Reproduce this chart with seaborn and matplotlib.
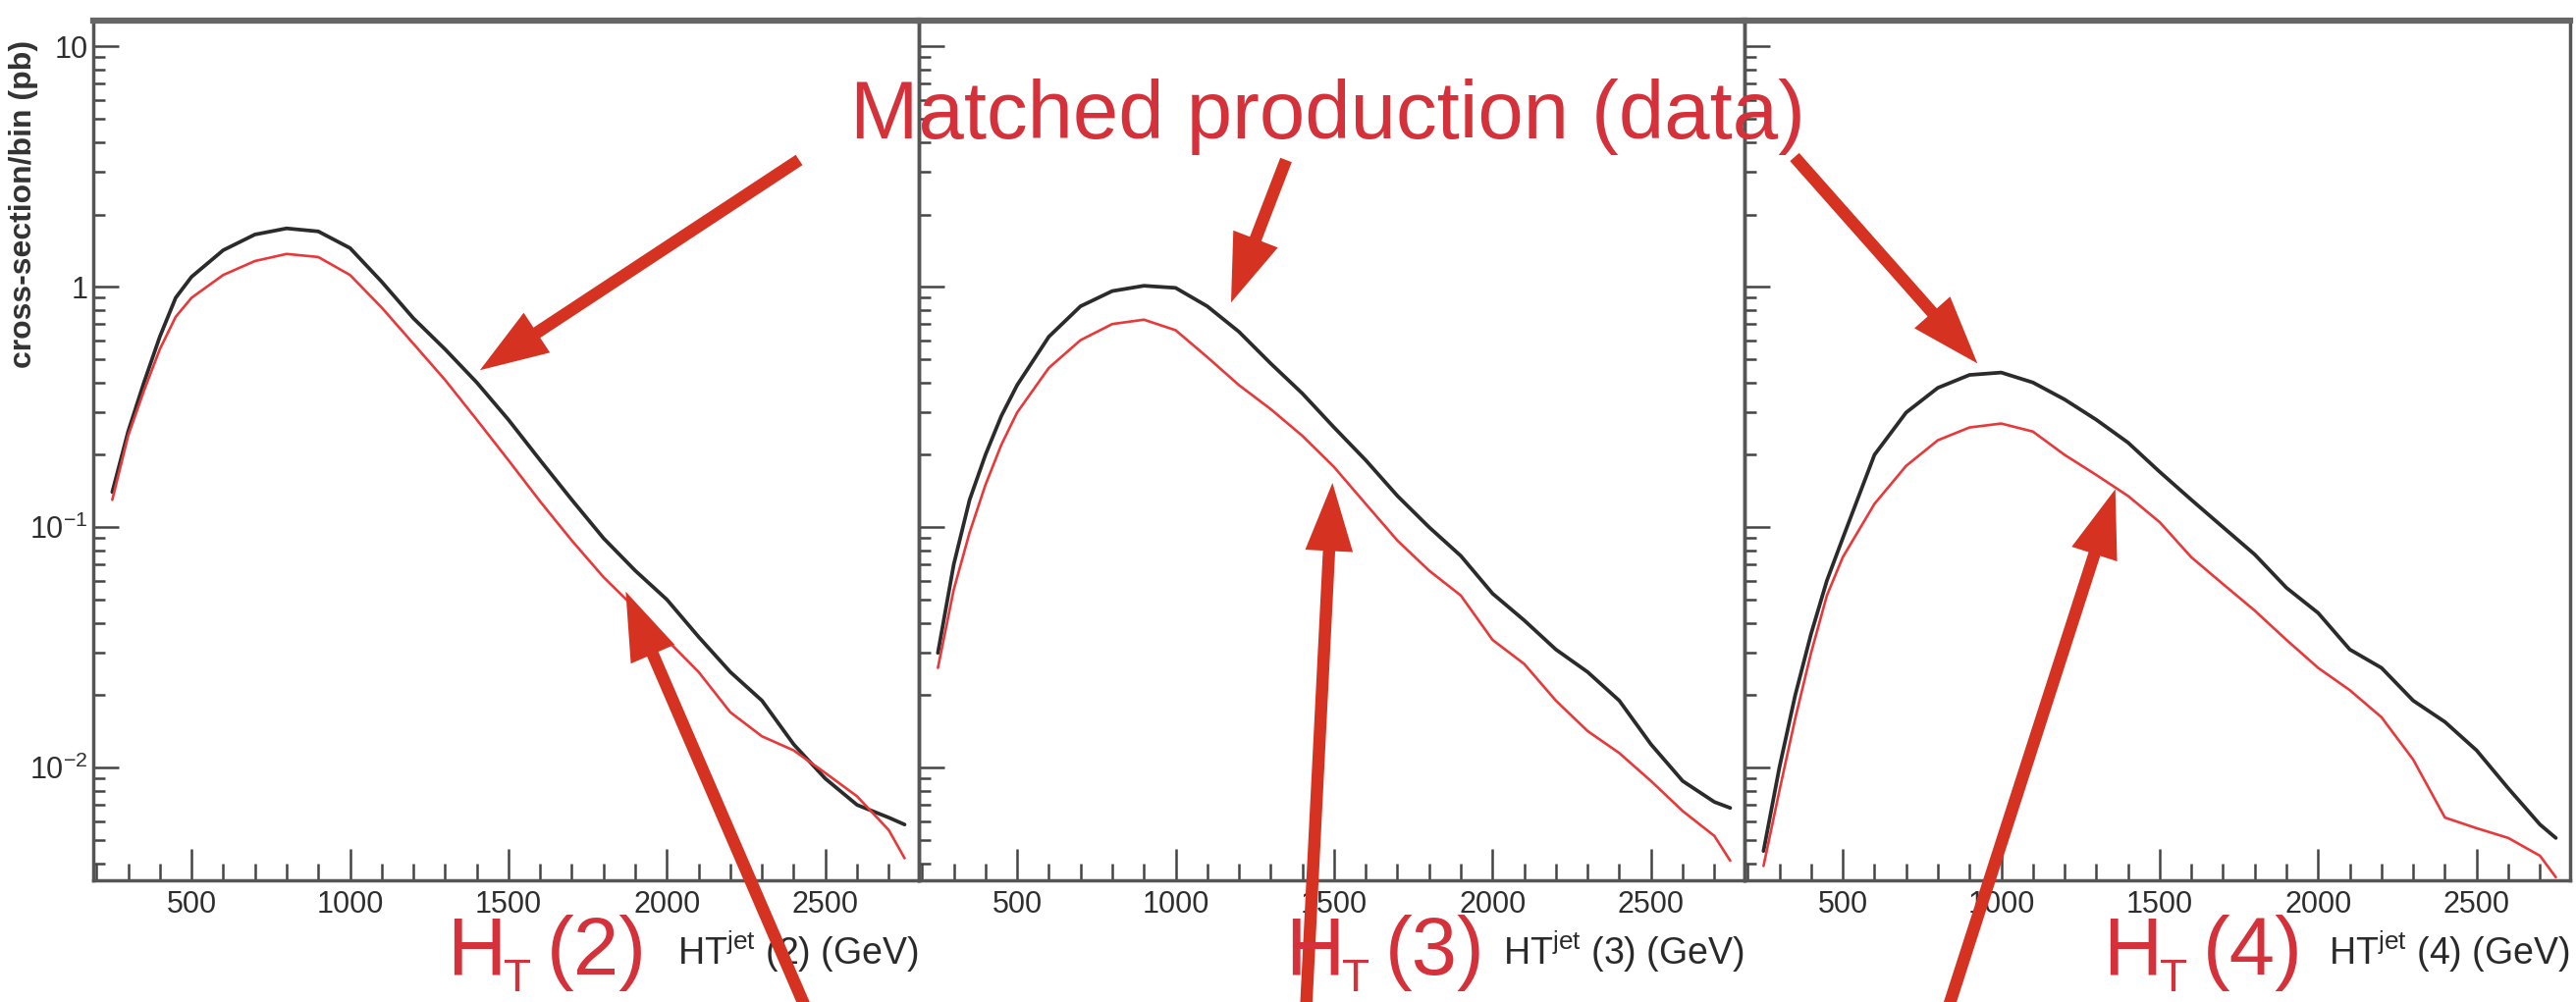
import numpy as np
import matplotlib
matplotlib.use("Agg")
import matplotlib.pyplot as plt
from matplotlib.ticker import FixedLocator, MultipleLocator, LogLocator
import pandas as pd
import seaborn as sns

# HT bins (GeV), shared by the three panels
ht = [250, 300, 350, 400, 450, 500, 600, 700, 800, 900, 1000, 1100, 1200, 1300, 1400,
      1500, 1600, 1700, 1800, 1900, 2000, 2100, 2200, 2300, 2400, 2500, 2600, 2700, 2750]

njets = [2, 3, 4]

# black curves: matched production (data)
matched_2 = [0.14, 0.25, 0.40, 0.62, 0.90, 1.10, 1.42, 1.65, 1.75, 1.70, 1.45, 1.05, 0.74, 0.55, 0.40,
             0.28, 0.19, 0.13, 0.090, 0.066, 0.050, 0.035, 0.025, 0.019, 0.0125, 0.0090, 0.0070, 0.0062, 0.0058]
matched_3 = [0.030, 0.070, 0.13, 0.20, 0.29, 0.39, 0.62, 0.83, 0.96, 1.01, 0.99, 0.83, 0.65, 0.48, 0.36,
             0.26, 0.19, 0.135, 0.10, 0.076, 0.053, 0.041, 0.031, 0.025, 0.019, 0.0125, 0.0088, 0.0072, 0.0068]
matched_4 = [0.0045, 0.010, 0.020, 0.036, 0.060, 0.090, 0.20, 0.30, 0.38, 0.43, 0.44, 0.40, 0.34, 0.28, 0.225,
             0.17, 0.13, 0.10, 0.077, 0.056, 0.044, 0.031, 0.026, 0.019, 0.0155, 0.0118, 0.0082, 0.0058, 0.0051]

# red curves: H_T(n)
htn_2 = [0.13, 0.24, 0.37, 0.55, 0.75, 0.90, 1.12, 1.28, 1.37, 1.33, 1.12, 0.82, 0.58, 0.41, 0.28,
         0.19, 0.128, 0.088, 0.062, 0.046, 0.034, 0.025, 0.017, 0.0135, 0.0118, 0.0095, 0.0076, 0.0055, 0.0042]
htn_3 = [0.026, 0.055, 0.095, 0.15, 0.22, 0.30, 0.46, 0.60, 0.70, 0.73, 0.66, 0.51, 0.39, 0.31, 0.24,
         0.178, 0.125, 0.088, 0.066, 0.052, 0.034, 0.027, 0.019, 0.0142, 0.0115, 0.0088, 0.0066, 0.0052, 0.0041]
htn_4 = [0.0039, 0.008, 0.016, 0.030, 0.052, 0.075, 0.125, 0.18, 0.23, 0.26, 0.27, 0.25, 0.20, 0.165, 0.135,
         0.105, 0.075, 0.058, 0.045, 0.034, 0.026, 0.021, 0.0162, 0.0108, 0.0062, 0.0056, 0.0051, 0.0043, 0.0035]

matched = [matched_2, matched_3, matched_4]
htn = [htn_2, htn_3, htn_4]

sns.set_theme(style="white")
plt.rcParams["font.family"] = ["Liberation Sans", "DejaVu Sans"]
plt.rcParams["mathtext.fontset"] = "custom"
plt.rcParams["mathtext.rm"] = "Liberation Sans"
plt.rcParams["mathtext.it"] = "Liberation Sans:italic"
plt.rcParams["mathtext.bf"] = "Liberation Sans:bold"

W, H = 2624, 1021
fig = plt.figure(figsize=(W / 100, H / 100), dpi=100)


def fx(px):
    return px / W


def fy(py):
    return 1 - py / H


text_red = "#d4313a"
arrow_red = "#d63222"
frame = "#555555"

ax_left, ax_w = 95, 841
ax_top, ax_bot = 21, 897

axes = []
for i, n in enumerate(njets):
    ax = fig.add_axes([fx(ax_left + i * ax_w), fy(ax_bot), fx(ax_w), (ax_bot - ax_top) / H])
    ax.set_facecolor("none")
    df = pd.DataFrame({"ht": ht, "matched": matched[i], "htn": htn[i]})
    sns.lineplot(data=df, x="ht", y="matched", ax=ax, color="#2b2b2b", lw=2.7, legend=False)
    sns.lineplot(data=df, x="ht", y="htn", ax=ax, color="#e8383a", lw=1.9, legend=False)
    ax.set_yscale("log")
    ax.set_xlim(190, 2795)
    ax.set_ylim(0.0034, 12.8)
    ax.set_xlabel("")
    ax.set_ylabel("")

    ax.xaxis.set_major_locator(FixedLocator([500, 1000, 1500, 2000, 2500]))
    ax.xaxis.set_minor_locator(MultipleLocator(100))
    ax.yaxis.set_major_locator(FixedLocator([0.01, 0.1, 1, 10]))
    ax.yaxis.set_minor_locator(LogLocator(base=10, subs=np.arange(2, 10), numticks=20))
    ax.tick_params(axis="both", which="both", direction="in", color="#444444", width=1.8,
                   bottom=True, left=True, top=False, right=False, labelcolor="#2e2e2e")
    ax.tick_params(axis="x", which="major", length=23, labelsize=22, pad=7)
    ax.tick_params(axis="x", which="minor", length=12)
    ax.tick_params(axis="y", which="major", length=19, labelsize=22, pad=4)
    ax.tick_params(axis="y", which="minor", length=8.5)
    if i == 0:
        ax.set_yticklabels(["$10^{-2}$", "$10^{-1}$", "1", "10"])
    else:
        ax.tick_params(axis="y", labelleft=False)

    for s in ax.spines.values():
        s.set_color(frame)
        s.set_linewidth(2.5)
    ax.spines["top"].set_linewidth(4.5)
    ax.spines["top"].set_color("#666666")

    ax.text(1.0, -0.098, r"HT$^{\mathrm{jet}}$ (%d) (GeV)" % n, transform=ax.transAxes,
            ha="right", va="baseline", fontsize=27, color="#2a2a2a")
    axes.append(ax)

fig.text(fx(24), fy(208), "cross-section/bin (pb)", rotation=90, ha="center", va="center",
         fontsize=23, fontweight="bold", color="#333333")

# red annotations
fig.text(fx(866), fy(141), "Matched production (data)", fontsize=60, color=text_red,
         ha="left", va="baseline")

h_left = [455, 1309, 2142]
for i, n in enumerate(njets):
    x0 = h_left[i]
    fig.text(fx(x0), fy(993), "H", fontsize=60, color=text_red, ha="left", va="baseline")
    fig.text(fx(x0 + 58), fy(1020), "T", fontsize=33, color=text_red, ha="left", va="bottom")
    fig.text(fx(x0 + 102), fy(993), "(%d)" % n, fontsize=60, color=text_red, ha="left", va="baseline")

arrow_style = "simple,head_length=0.5,head_width=0.35,tail_width=0.09"
# (panel, tip x, tip y, tail px, tail py)
top_arrows = [(0, 1410, 0.45, 814, 163), (1, 1175, 0.86, 1310, 163), (2, 925, 0.48, 1828, 160)]
bottom_arrows = [(0, 1870, 0.054, 824, 1035), (1, 1495, 0.153, 1330, 1035), (2, 1360, 0.144, 1982, 1035)]
for p, tx, ty, px, py in top_arrows + bottom_arrows:
    axes[p].annotate("", xy=(tx, ty), xycoords="data", xytext=(fx(px), fy(py)),
                     textcoords="figure fraction", annotation_clip=False,
                     arrowprops=dict(arrowstyle=arrow_style, mutation_scale=100,
                                     facecolor=arrow_red, edgecolor="none", linewidth=0,
                                     shrinkA=0, shrinkB=0))

fig.savefig("out.png", dpi=100)
